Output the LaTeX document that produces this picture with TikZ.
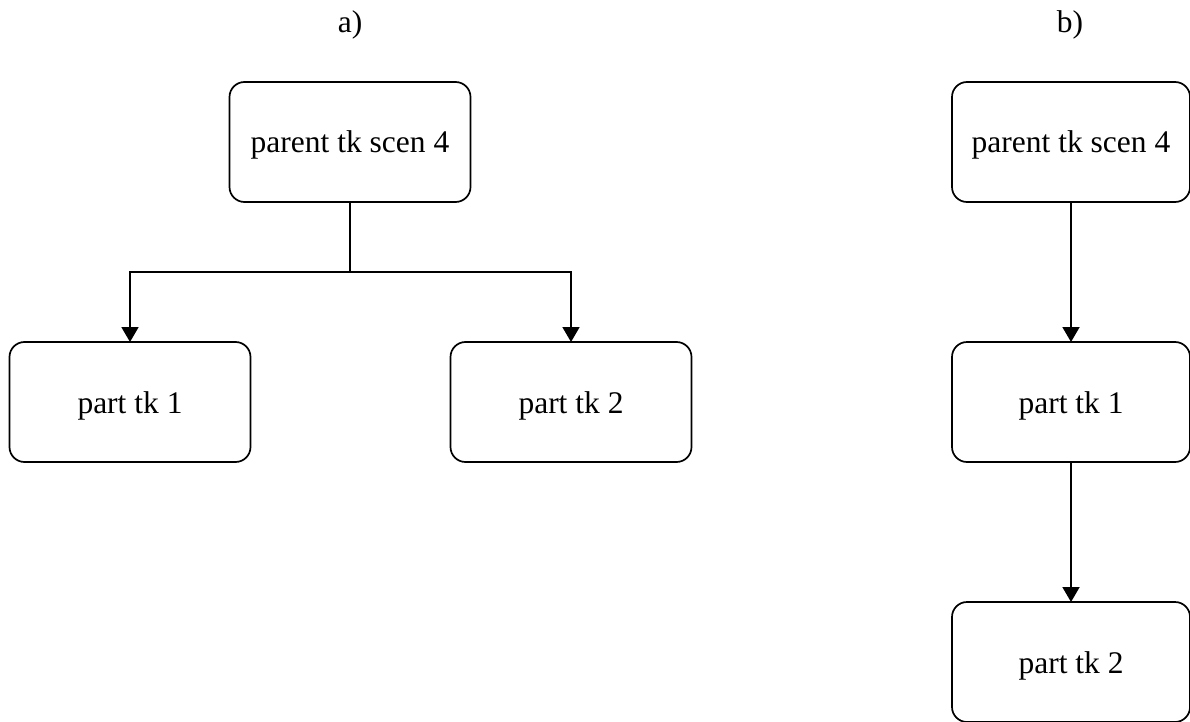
\documentclass[tikz,border=0pt]{standalone}
\usepackage{fontspec}
\setmainfont{Liberation Serif}
\usetikzlibrary{arrows.meta}
\begin{document}
\begin{tikzpicture}[x=1pt,y=-1pt,
  box/.style={draw, line width=1.7pt, rounded corners=15pt, minimum width=241pt,
    minimum height=120pt, inner sep=0pt, outer sep=0pt,
    text height=25pt, text depth=3pt,
    font=\fontsize{31.5}{36}\selectfont},
  link/.style={line width=1.8pt, -{Triangle[length=15pt,width=17pt]}},
  lbl/.style={font=\fontsize{31.5}{36}\selectfont, inner sep=0pt}]
\useasboundingbox (0,0) rectangle (1190,722);

% panel a: one parent with two children side by side
\node[lbl] (la) at (350,25) {a)};
\node[box] (pa) at (350,142) {parent tk scen 4};
\node[box] (a1) at (130,402) {part tk 1};
\node[box] (a2) at (571,402) {part tk 2};
\coordinate (fork) at (350,272);
\draw[line width=1.8pt] (pa.south) -- (fork);
\draw[link] (fork) -| (a1.north);
\draw[link] (fork) -| (a2.north);

% panel b: parent and children in a chain
\node[lbl] (lb) at (1070,25) {b)};
\node[box, minimum width=238pt] (pb) at (1071,142) {parent tk scen 4};
\node[box, minimum width=238pt] (b1) at (1071,402) {part tk 1};
\node[box, minimum width=238pt] (b2) at (1071,662) {part tk 2};
\draw[link] (pb.south) -- (b1.north);
\draw[link] (b1.south) -- (b2.north);
\end{tikzpicture}
\end{document}
